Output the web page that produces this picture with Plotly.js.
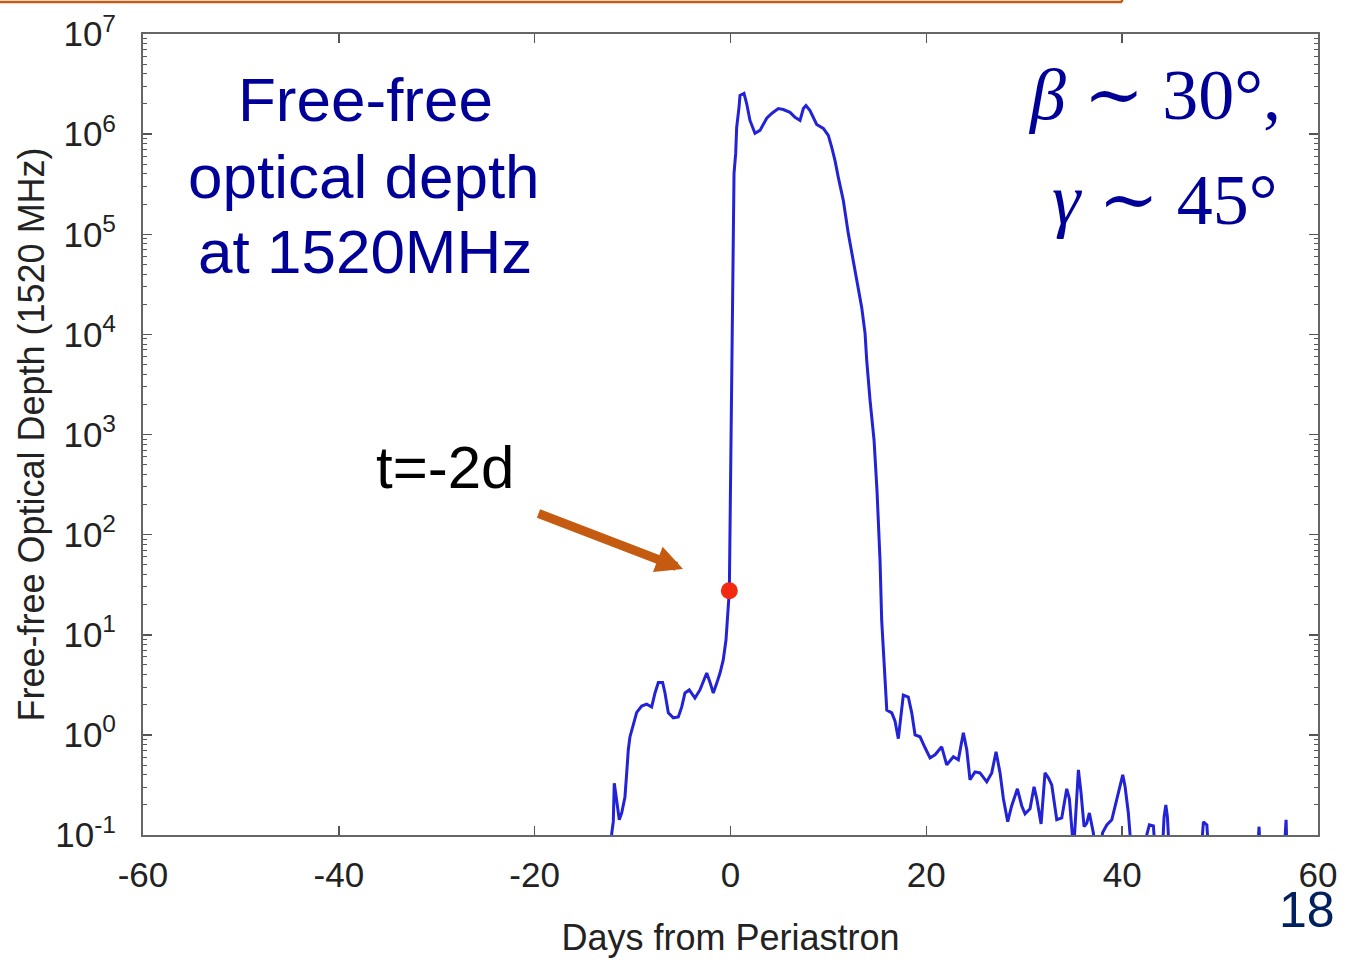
<!DOCTYPE html>
<html>
<head>
<meta charset="utf-8">
<script src="https://cdn.plot.ly/plotly-3.0.1.min.js"></script>
<style>
  html, body { margin: 0; padding: 0; background: #ffffff; }
  #chart { width: 1357px; height: 960px; }
</style>
</head>
<body>
<div id="chart"></div>
<script>
// Days from periastron (x) and free-free optical depth at 1520 MHz (y)
const days = [-12.2, -12.13, -11.97, -11.87, -11.73, -11.62, -11.36, -11.11, -10.78, -10.60,
  -10.44, -10.27, -9.93, -9.58, -9.07, -8.56, -8.05, -7.71, -7.37, -6.93,
  -6.69, -6.35, -5.84, -5.33, -4.98, -4.65, -4.21, -3.63, -3.12, -2.43,
  -2.09, -1.76, -1.41, -1.07, -0.74, -0.46, -0.12, 0.0, 0.12, 0.22,
  0.29, 0.36, 0.53, 0.63, 0.87, 0.97, 1.38, 1.65, 1.99, 2.50,
  3.01, 3.70, 4.21, 4.88, 5.39, 6.08, 6.59, 7.10, 7.44, 7.71,
  8.12, 8.46, 8.80, 9.48, 9.99, 10.34, 10.67, 11.01, 11.52, 12.03,
  12.54, 13.05, 13.40, 13.74, 13.91, 14.25, 14.66, 14.96, 15.17, 15.27,
  15.44, 15.61, 15.78, 15.96, 16.47, 16.80, 17.14, 17.49, 17.65, 18.16,
  18.51, 18.85, 19.36, 19.87, 20.38, 20.89, 21.57, 22.08, 22.76, 23.27,
  23.78, 24.13, 24.46, 24.97, 25.48, 26.17, 26.68, 27.12, 27.53, 27.87,
  28.31, 28.72, 29.30, 29.74, 30.08, 30.59, 31.00, 31.28, 31.72, 32.12,
  32.46, 32.81, 33.32, 33.83, 34.34, 34.61, 34.95, 35.04, 35.53, 35.80,
  36.11, 36.38, 36.65, 37.06, 37.3, 37.8, 37.99, 38.43, 38.94, 39.28,
  39.79, 40.06, 40.30, 40.63, 40.81, 41.0, 42.4, 42.51, 42.78, 43.19,
  43.46, 44.04, 44.28, 44.46, 44.62, 44.88, 47.96, 48.30, 48.65, 48.91,
  53.75, 53.98, 54.16, 56.47, 56.74, 56.87];
const depth = [0.05, 0.104, 0.136, 0.329, 0.263, 0.209, 0.142, 0.166, 0.240, 0.417,
  0.706, 0.953, 1.30, 1.68, 1.94, 2.03, 1.90, 2.62, 3.34, 3.34,
  2.62, 1.66, 1.48, 1.51, 1.90, 2.62, 2.81, 2.33, 2.81, 4.15,
  3.34, 2.62, 3.27, 4.15, 5.60, 8.85, 27.5, 350, 5520, 10250,
  1.02e5, 4.06e5, 6.42e5, 1.17e6, 1.85e6, 2.43e6, 2.55e6, 2.02e6, 1.37e6, 1.02e6,
  1.09e6, 1.44e6, 1.61e6, 1.80e6, 1.76e6, 1.65e6, 1.47e6, 1.37e6, 1.80e6, 1.93e6,
  1.72e6, 1.44e6, 1.25e6, 1.14e6, 9.70e5, 7.36e5, 5.47e5, 3.70e5, 2.18e5, 1.02e5,
  5.48e4, 2.95e4, 1.86e4, 1.03e4, 5520, 2200, 877, 278, 88, 55.7,
  14.0, 7.54, 4.44, 1.77, 1.66, 1.38, 0.916, 1.77, 2.50, 2.39,
  1.66, 1.00, 0.957, 0.743, 0.590, 0.632, 0.760, 0.502, 0.604, 0.564,
  1.05, 0.710, 0.356, 0.427, 0.417, 0.340, 0.417, 0.678, 0.417, 0.230,
  0.136, 0.196, 0.289, 0.196, 0.163, 0.183, 0.303, 0.230, 0.129, 0.417,
  0.372, 0.316, 0.142, 0.148, 0.289, 0.230, 0.105, 0.07, 0.447, 0.263,
  0.121, 0.131, 0.166, 0.105, 0.05, 0.05, 0.105, 0.126, 0.142, 0.196,
  0.332, 0.399, 0.303, 0.166, 0.1, 0.05, 0.05, 0.1, 0.126, 0.123,
  0.05, 0.05, 0.152, 0.200, 0.152, 0.05, 0.05, 0.135, 0.126, 0.05,
  0.05, 0.121, 0.05, 0.05, 0.142, 0.05];

// Highlighted epoch (t = -2 d marker)
const markDay = [-0.12];
const markDepth = [27.5];

// Axis ticks
const xTicks = [-60, -40, -20, 0, 20, 40, 60];
const yTickVals = [0.1, 1, 10, 100, 1e3, 1e4, 1e5, 1e6, 1e7];
const yTickText = ['10<sup>-1</sup>', '10<sup>0</sup>', '10<sup>1</sup>', '10<sup>2</sup>',
  '10<sup>3</sup>', '10<sup>4</sup>', '10<sup>5</sup>', '10<sup>6</sup>', '10<sup>7</sup>'];
const yMinorVals = [];
for (let d = -1; d < 7; d++) {
  for (let k = 2; k <= 9; k++) yMinorVals.push(k * Math.pow(10, d));
}

const W = 1357, H = 960;
const mL = 143, mR = 39, mT = 34, mB = 125;
const pw = W - mL - mR, ph = H - mT - mB;
const px = v => (v - mL) / pw;           // pixel x -> paper x
const py = v => (H - mB - v) / ph;       // pixel y -> paper y

const navy = '#000099';
const orange = '#C55A11';
const sans = 'Liberation Sans, Arial, sans-serif';
const serif = 'Liberation Serif, DejaVu Serif, serif';

const traces = [
  {
    x: days, y: depth, type: 'scatter', mode: 'lines',
    line: { color: '#2222D6', width: 3 },
    hoverinfo: 'skip', showlegend: false
  },
  {
    x: markDay, y: markDepth, type: 'scatter', mode: 'markers',
    marker: { color: '#F22A10', size: 17, line: { width: 0 } },
    hoverinfo: 'skip', showlegend: false
  }
];

const layout = {
  width: W, height: H,
  margin: { l: mL, r: mR, t: mT, b: mB },
  paper_bgcolor: '#ffffff', plot_bgcolor: '#ffffff',
  showlegend: false,
  font: { family: sans, color: '#222222' },
  xaxis: {
    range: [-60, 60], tickvals: xTicks, ticktext: xTicks.map(String),
    ticks: 'inside', ticklen: 9, tickwidth: 1.5, tickcolor: '#555555',
    showline: true, linecolor: '#666666', linewidth: 2, mirror: 'ticks',
    showgrid: false, zeroline: false,
    tickfont: { family: sans, size: 35, color: '#222222' },
    ticklabelstandoff: 8,
    title: { text: 'Days from Periastron', font: { family: sans, size: 36, color: '#222222' }, standoff: 32 }
  },
  yaxis: {
    type: 'log', range: [-1, 7],
    tickvals: yTickVals, ticktext: yTickText,
    ticks: 'inside', ticklen: 9, tickwidth: 1.5, tickcolor: '#555555',
    minor: { tickvals: yMinorVals, ticks: 'inside', ticklen: 4, tickwidth: 1, tickcolor: '#555555', showgrid: false },
    showline: true, linecolor: '#666666', linewidth: 2, mirror: 'ticks',
    showgrid: false, zeroline: false,
    tickfont: { family: sans, size: 35, color: '#222222' },
    ticklabelstandoff: 18,
    title: { text: 'Free-free Optical Depth (1520 MHz)', font: { family: sans, size: 36, color: '#222222' }, standoff: 0 }
  },
  shapes: [
    { type: 'line', xref: 'paper', yref: 'paper', x0: px(-5), x1: px(1122), y0: py(2), y1: py(2),
      line: { color: orange, width: 2.5 } },
    { type: 'line', xref: 'paper', yref: 'paper', x0: px(1122), x1: px(1122), y0: py(-5), y1: py(2),
      line: { color: orange, width: 2.5 } }
  ],
  annotations: [
    { xref: 'paper', yref: 'paper', x: px(365), y: py(100), xanchor: 'center', yanchor: 'middle',
      text: 'Free-free', showarrow: false, font: { family: sans, size: 62, color: navy } },
    { xref: 'paper', yref: 'paper', x: px(364), y: py(176), xanchor: 'center', yanchor: 'middle',
      text: 'optical depth', showarrow: false, font: { family: sans, size: 62, color: navy } },
    { xref: 'paper', yref: 'paper', x: px(365), y: py(251), xanchor: 'center', yanchor: 'middle',
      text: 'at 1520MHz', showarrow: false, font: { family: sans, size: 62, color: navy } },
    { xref: 'paper', yref: 'paper', x: px(445), y: py(467), xanchor: 'center', yanchor: 'middle',
      text: 't=-2d', showarrow: false, font: { family: sans, size: 60, color: '#000000' } },
    { xref: 'paper', yref: 'paper', x: px(1283), y: py(95), xanchor: 'right', yanchor: 'middle',
      text: '<i>β</i> ∼ 30°,', showarrow: false, font: { family: serif, size: 72, color: navy } },
    { xref: 'paper', yref: 'paper', x: px(1280), y: py(200), xanchor: 'right', yanchor: 'middle',
      text: '<i>γ</i> ∼ 45°', showarrow: false, font: { family: serif, size: 72, color: navy } },
    { xref: 'paper', yref: 'paper', x: px(1307), y: py(910), xanchor: 'center', yanchor: 'middle',
      text: '18', showarrow: false, font: { family: sans, size: 50, color: '#002060' } },
    { xref: 'paper', yref: 'paper', x: px(683), y: py(569), text: '', showarrow: true,
      ax: -146, ay: -56, arrowcolor: orange, arrowwidth: 9, arrowhead: 2, arrowsize: 0.6 }
  ]
};

Plotly.newPlot('chart', traces, layout, { staticPlot: true, displayModeBar: false });
</script>
</body>
</html>
